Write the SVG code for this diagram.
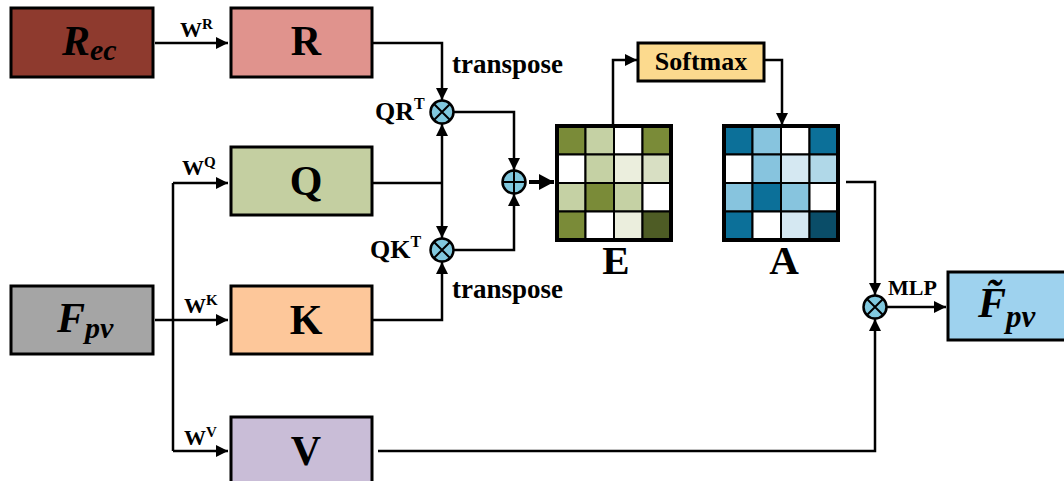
<svg xmlns="http://www.w3.org/2000/svg" width="1064" height="481" viewBox="0 0 1064 481">
<style>
.box{stroke:#000;stroke-width:3}
.t{font-family:"Liberation Serif","Times New Roman",serif;font-weight:bold;fill:#000}
.it{font-style:italic}
.ln{fill:none;stroke:#000;stroke-width:2.5}
.op{fill:#80C8DE;stroke:#000;stroke-width:2.5}
.cell{stroke:#000;stroke-width:2}
.frame{fill:none;stroke:#000;stroke-width:4}
</style>
<defs>
<marker id="ah" markerUnits="userSpaceOnUse" markerWidth="13" markerHeight="12" refX="12" refY="6" orient="auto">
<path d="M0,0 L12,6 L0,12 Z" fill="#000"/>
</marker>
<marker id="ahb" markerUnits="userSpaceOnUse" markerWidth="16" markerHeight="16" refX="15" refY="8" orient="auto">
<path d="M0,0 L15,8 L0,16 Z" fill="#000"/>
</marker>
</defs>
<rect width="1064" height="481" fill="#fff"/>

<g id="connectors">
<path class="ln" d="M155,43 H228" marker-end="url(#ah)"/>
<path class="ln" d="M372,43 H442 V100" marker-end="url(#ah)"/>
<path class="ln" d="M372,183 H442"/>
<path class="ln" d="M442,183 V124" marker-end="url(#ah)"/>
<path class="ln" d="M442,183 V238" marker-end="url(#ah)"/>
<path class="ln" d="M372,320 H442 V262" marker-end="url(#ah)"/>
<path class="ln" d="M454,112 H514 V170" marker-end="url(#ah)"/>
<path class="ln" d="M454,250 H514 V194" marker-end="url(#ah)"/>
<path class="ln" d="M529,182 H554" style="stroke-width:4" marker-end="url(#ahb)"/>
<path class="ln" d="M613,126 V60 H637" marker-end="url(#ah)"/>
<path class="ln" d="M764,60 H782 V125" marker-end="url(#ah)"/>
<path class="ln" d="M846,182 H875 V295" marker-end="url(#ah)"/>
<path class="ln" d="M378,451 H875 V319" marker-end="url(#ah)"/>
<path class="ln" d="M887,307 H946" marker-end="url(#ah)"/>
<path class="ln" d="M155,320 H228" marker-end="url(#ah)"/>
<path class="ln" d="M173,183 V451"/>
<path class="ln" d="M173,183 H228" marker-end="url(#ah)"/>
<path class="ln" d="M173,451 H228" marker-end="url(#ah)"/>
<text class="t" x="180" y="37" font-size="22">W<tspan font-size="15" dy="-8">R</tspan></text>
<text class="t" x="182" y="175" font-size="22">W<tspan font-size="15" dy="-8">Q</tspan></text>
<text class="t" x="184" y="313" font-size="22">W<tspan font-size="15" dy="-8">K</tspan></text>
<text class="t" x="184" y="445" font-size="22">W<tspan font-size="15" dy="-8">V</tspan></text>
<text class="t" x="452" y="73" font-size="27">transpose</text>
<text class="t" x="452" y="298" font-size="27">transpose</text>
<text class="t" x="888" y="295" font-size="22">MLP</text>
</g>

<g id="node-rec">
<rect class="box" x="11" y="8" width="142" height="69" fill="#8E3A2E"/>
<text class="t it" x="62" y="55" font-size="42">R<tspan font-size="30" dy="5">ec</tspan></text>
</g>
<g id="node-r">
<rect class="box" x="231" y="8" width="141" height="69" fill="#E0938D"/>
<text class="t" x="306" y="55" font-size="42" text-anchor="middle">R</text>
</g>
<g id="node-q">
<rect class="box" x="231" y="147" width="141" height="68" fill="#C4CFA1"/>
<text class="t" x="306" y="195" font-size="42" text-anchor="middle">Q</text>
</g>
<g id="node-k">
<rect class="box" x="231" y="286" width="141" height="68" fill="#FDC79A"/>
<text class="t" x="306" y="334" font-size="42" text-anchor="middle">K</text>
</g>
<g id="node-v">
<rect class="box" x="231" y="417" width="141" height="68" fill="#C9BDD7"/>
<text class="t" x="306" y="465" font-size="42" text-anchor="middle">V</text>
</g>
<g id="node-fpv">
<rect class="box" x="11" y="286" width="142" height="68" fill="#A5A5A5"/>
<text class="t it" x="57" y="332" font-size="42">F<tspan font-size="30" dy="6">pv</tspan></text>
</g>

<g id="op-qr">
<circle class="op" cx="442" cy="112" r="11.5"/>
<path class="ln" d="M434,104 L450,120 M450,104 L434,120" style="stroke-width:2"/>
<text class="t" x="375" y="120" font-size="26">QR<tspan font-size="16" dy="-11">T</tspan></text>
</g>
<g id="op-qk">
<circle class="op" cx="442" cy="250" r="11.5"/>
<path class="ln" d="M434,242 L450,258 M450,242 L434,258" style="stroke-width:2"/>
<text class="t" x="370" y="258" font-size="26">QK<tspan font-size="16" dy="-11">T</tspan></text>
</g>
<g id="op-plus">
<circle class="op" cx="514" cy="182" r="11.5"/>
<path class="ln" d="M514,171 V193 M503,182 H525" style="stroke-width:2"/>
</g>

<g id="node-e">
<rect class="cell" x="557" y="126" width="28.5" height="28.5" fill="#7A8B38"/>
<rect class="cell" x="585.5" y="126" width="28.5" height="28.5" fill="#C5D1A4"/>
<rect class="cell" x="614" y="126" width="28.5" height="28.5" fill="#FFFFFF"/>
<rect class="cell" x="642.5" y="126" width="28.5" height="28.5" fill="#7A8B38"/>
<rect class="cell" x="557" y="154.5" width="28.5" height="28.5" fill="#FFFFFF"/>
<rect class="cell" x="585.5" y="154.5" width="28.5" height="28.5" fill="#C5D1A4"/>
<rect class="cell" x="614" y="154.5" width="28.5" height="28.5" fill="#EBEEDD"/>
<rect class="cell" x="642.5" y="154.5" width="28.5" height="28.5" fill="#D8DFC3"/>
<rect class="cell" x="557" y="183" width="28.5" height="28.5" fill="#C5D1A4"/>
<rect class="cell" x="585.5" y="183" width="28.5" height="28.5" fill="#7A8B38"/>
<rect class="cell" x="614" y="183" width="28.5" height="28.5" fill="#C5D1A4"/>
<rect class="cell" x="642.5" y="183" width="28.5" height="28.5" fill="#FFFFFF"/>
<rect class="cell" x="557" y="211.5" width="28.5" height="28.5" fill="#7A8B38"/>
<rect class="cell" x="585.5" y="211.5" width="28.5" height="28.5" fill="#FFFFFF"/>
<rect class="cell" x="614" y="211.5" width="28.5" height="28.5" fill="#EBEEDD"/>
<rect class="cell" x="642.5" y="211.5" width="28.5" height="28.5" fill="#4E5C25"/>
<rect class="frame" x="557" y="126" width="114" height="114"/>
<text class="t" x="616" y="274" font-size="41" text-anchor="middle">E</text>
</g>

<g id="node-softmax">
<rect class="box" x="638" y="43" width="126" height="38" fill="#FCDA8E"/>
<text class="t" x="701" y="70" font-size="26" text-anchor="middle">Softmax</text>
</g>

<g id="node-a">
<rect class="cell" x="724" y="126" width="28.5" height="28.5" fill="#0C7099"/>
<rect class="cell" x="752.5" y="126" width="28.5" height="28.5" fill="#87C4DE"/>
<rect class="cell" x="781" y="126" width="28.5" height="28.5" fill="#FFFFFF"/>
<rect class="cell" x="809.5" y="126" width="28.5" height="28.5" fill="#0C7099"/>
<rect class="cell" x="724" y="154.5" width="28.5" height="28.5" fill="#FFFFFF"/>
<rect class="cell" x="752.5" y="154.5" width="28.5" height="28.5" fill="#87C4DE"/>
<rect class="cell" x="781" y="154.5" width="28.5" height="28.5" fill="#D5E8F2"/>
<rect class="cell" x="809.5" y="154.5" width="28.5" height="28.5" fill="#B0D8E8"/>
<rect class="cell" x="724" y="183" width="28.5" height="28.5" fill="#87C4DE"/>
<rect class="cell" x="752.5" y="183" width="28.5" height="28.5" fill="#0C7099"/>
<rect class="cell" x="781" y="183" width="28.5" height="28.5" fill="#87C4DE"/>
<rect class="cell" x="809.5" y="183" width="28.5" height="28.5" fill="#FFFFFF"/>
<rect class="cell" x="724" y="211.5" width="28.5" height="28.5" fill="#0C7099"/>
<rect class="cell" x="752.5" y="211.5" width="28.5" height="28.5" fill="#FFFFFF"/>
<rect class="cell" x="781" y="211.5" width="28.5" height="28.5" fill="#D5E8F2"/>
<rect class="cell" x="809.5" y="211.5" width="28.5" height="28.5" fill="#0A4D68"/>
<rect class="frame" x="724" y="126" width="114" height="114"/>
<text class="t" x="784" y="274" font-size="41" text-anchor="middle">A</text>
</g>

<g id="op-mul">
<circle class="op" cx="875" cy="307" r="11.5"/>
<path class="ln" d="M867,299 L883,315 M883,299 L867,315" style="stroke-width:2"/>
</g>

<g id="node-fout">
<rect class="box" x="948" y="272" width="130" height="68" fill="#9ED2EE"/>
<text class="t it" x="978" y="317" font-size="42">F̃<tspan font-size="31" dy="10">pv</tspan></text>
</g>
</svg>
